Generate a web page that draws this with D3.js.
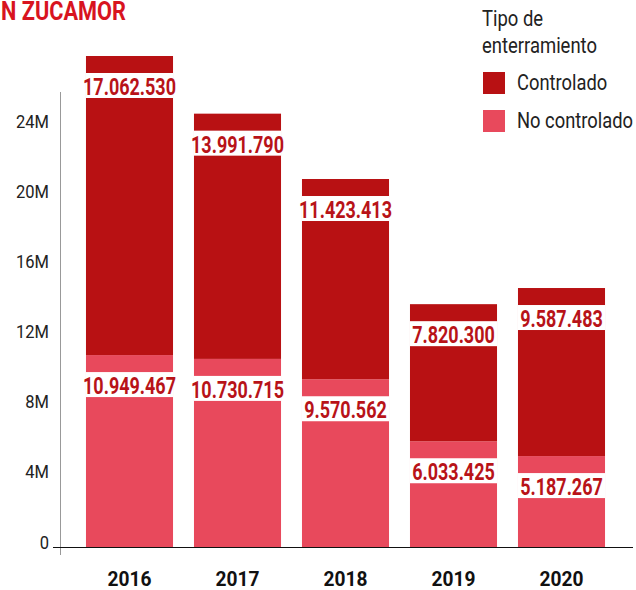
<!DOCTYPE html>
<meta charset="utf-8">
<script src="https://d3js.org/d3.v7.min.js"></script>
<style>
  body { margin: 0; background: #fff; }
  text { font-family: Roboto, "Noto Sans", sans-serif; }
</style>
<div id="chart"></div>
<script>
// data
var years = ["2016", "2017", "2018", "2019", "2020"];
var controlado = [17062530, 13991790, 11423413, 7820300, 9587483];
var noControlado = [10949467, 10730715, 9570562, 6033425, 5187267];
var yTicks = [0, 4e6, 8e6, 12e6, 16e6, 20e6, 24e6];
var seriesNames = ["Controlado", "No controlado"];
var seriesColors = ["#b81113", "#e8495c"];

var width = 636, height = 590;

var svg = d3.select("#chart").append("svg")
    .attr("width", width)
    .attr("height", height);

// squeeze text horizontally so it looks like a condensed face
function condense(sel, k) {
  sel.each(function() {
    var t = d3.select(this);
    var x = +t.attr("x") || 0, y = +t.attr("y") || 0;
    t.attr("x", 0).attr("y", 0)
     .attr("transform", "translate(" + x + "," + y + ") scale(" + k + ",1)");
  });
}
function widthOf(node) { return node.getComputedTextLength(); }

var rows = years.map(function(yr, i) {
  return { year: yr, "Controlado": controlado[i], "No controlado": noControlado[i] };
});
var stacked = d3.stack().keys(["No controlado", "Controlado"])(rows);
var colorOf = d3.scaleOrdinal().domain(seriesNames).range(seriesColors);

var x = d3.scaleBand()
    .domain(years)
    .range([75.5, 615.5])
    .paddingInner(0.194)
    .paddingOuter(0.097);

var y = d3.scaleLinear()
    .domain([0, d3.max(rows, function(d) { return d["Controlado"] + d["No controlado"]; })])
    .range([547, 56]);

// title fragment
var title = svg.append("text")
    .attr("x", 1).attr("y", 20)
    .attr("font-size", 25).attr("font-weight", 700)
    .attr("fill", "#d8141f")
    .text("N ZUCAMOR");
condense(title, 125 / widthOf(title.node()));

// y axis
var yAxis = svg.append("g")
    .attr("transform", "translate(60,0)")
    .call(d3.axisLeft(y).tickValues(yTicks).tickSize(0)
      .tickFormat(function(d) { return d === 0 ? "0" : (d / 1e6) + "M"; }));
yAxis.select(".domain").remove();
var tickText = yAxis.selectAll("text")
    .attr("x", -11).attr("y", 1).attr("dy", null)
    .attr("font-size", 19)
    .attr("font-family", "Roboto")
    .attr("fill", "#222");
var k24 = 33 / widthOf(tickText.filter(function(d) { return d === 24e6; }).node());
condense(tickText, k24);

svg.append("line")
    .attr("x1", 60.5).attr("x2", 60.5)
    .attr("y1", 92).attr("y2", 555)
    .attr("stroke", "#999").attr("stroke-width", 1);

// bars
var layers = svg.append("g").selectAll("g")
  .data(stacked)
  .join("g")
    .attr("fill", function(d) { return colorOf(d.key); });

layers.selectAll("rect")
  .data(function(d) { return d; })
  .join("rect")
    .attr("x", function(d) { return x(d.data.year); })
    .attr("y", function(d) { return y(d[1]); })
    .attr("width", x.bandwidth())
    .attr("height", function(d) { return y(d[0]) - y(d[1]); });

// value labels on white bands
var labels = svg.append("g");
stacked.forEach(function(layer) {
  layer.forEach(function(d) {
    var top = y(d[1]);
    labels.append("rect")
      .attr("x", x(d.data.year))
      .attr("y", top + 17)
      .attr("width", x.bandwidth())
      .attr("height", 25)
      .attr("fill", "#fff");
    labels.append("text")
      .attr("class", "val")
      .attr("x", x(d.data.year) + x.bandwidth() / 2)
      .attr("y", top + 39)
      .attr("text-anchor", "middle")
      .attr("font-size", 24)
      .attr("font-weight", 700)
      .attr("fill", "#b81318")
      .text(d3.format(",")(d.data[layer.key]).replace(/,/g, "."));
  });
});
var valText = labels.selectAll("text.val");
var kVal = 93 / widthOf(valText.filter(function() { return this.textContent.length === 10; }).node());
condense(valText, kVal);

// baseline
svg.append("line")
    .attr("x1", 53).attr("x2", 633)
    .attr("y1", 547.5).attr("y2", 547.5)
    .attr("stroke", "#111").attr("stroke-width", 1);

// year labels
var xAxis = svg.append("g")
    .attr("transform", "translate(0,586)")
    .call(d3.axisBottom(x).tickSize(0).tickPadding(0));
xAxis.select(".domain").remove();
var yearText = xAxis.selectAll("text")
    .attr("y", 0).attr("dy", null)
    .attr("font-size", 21)
    .attr("font-weight", 700)
    .attr("font-family", "Roboto")
    .attr("fill", "#111");
var kYear = 44 / widthOf(yearText.node());
yearText.each(function() {
  d3.select(this).attr("transform", "scale(" + kYear + ",1)");
});

// legend
var legend = svg.append("g");
var legTitle = legend.selectAll("text.lt")
  .data(["Tipo de", "enterramiento"])
  .join("text")
    .attr("class", "lt")
    .attr("x", 482)
    .attr("y", function(d, i) { return 26 + i * 27; })
    .attr("font-size", 22)
    .attr("fill", "#222")
    .text(function(d) { return d; });
var kLeg = 115 / widthOf(legTitle.filter(function(d) { return d === "enterramiento"; }).node());
condense(legTitle, kLeg);

legend.selectAll("rect")
  .data(seriesNames)
  .join("rect")
    .attr("x", 483)
    .attr("y", function(d, i) { return 72 + i * 38; })
    .attr("width", 22).attr("height", 22)
    .attr("fill", function(d) { return colorOf(d); });

var legItems = legend.selectAll("text.li")
  .data(seriesNames)
  .join("text")
    .attr("class", "li")
    .attr("x", 517)
    .attr("y", function(d, i) { return 90 + i * 38; })
    .attr("font-size", 22)
    .attr("fill", "#222")
    .text(function(d) { return d; });
var kItem = 116 / widthOf(legItems.filter(function(d) { return d === "No controlado"; }).node());
condense(legItems, kItem);
</script>
